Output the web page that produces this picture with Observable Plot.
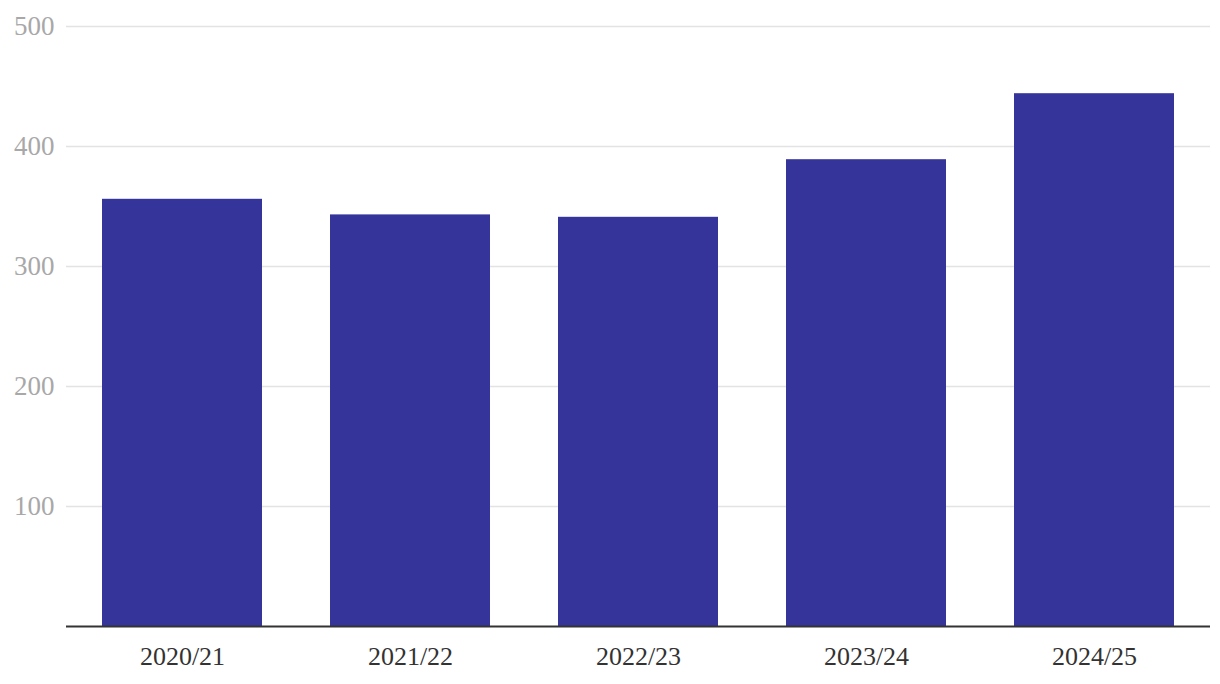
<!DOCTYPE html>
<html>
<head>
<meta charset="utf-8">
<script src="https://cdn.jsdelivr.net/npm/d3@7"></script>
<script src="https://cdn.jsdelivr.net/npm/@observablehq/plot@0.6"></script>
<style>
  html, body { margin: 0; padding: 0; background: #fff; }
  #chart svg { display: block; }
</style>
</head>
<body>
<div id="chart"></div>
<script>
const years = ["2020/21", "2021/22", "2022/23", "2023/24", "2024/25"];
const values = [356, 343, 341, 389, 444];
const yTicks = [100, 200, 300, 400, 500];

const data = years.map((y, i) => ({year: y, value: values[i]}));

const chart = Plot.plot({
  width: 1220,
  height: 684,
  marginLeft: 66,
  marginRight: 10,
  marginTop: 26,
  marginBottom: 58,
  style: {fontFamily: "'Liberation Serif', 'DejaVu Serif', serif", fontSize: "20px", background: "#fff"},
  x: {domain: years, paddingInner: 0.3, paddingOuter: 0.15, label: null},
  y: {domain: [0, 500], label: null},
  marks: [
    Plot.gridY(yTicks, {stroke: "#e3e3e3", strokeOpacity: 1, strokeWidth: 1.5}),
    Plot.barY(data, {x: "year", y: "value", fill: "#35349a"}),
    Plot.ruleY([0], {stroke: "#333", strokeWidth: 2}),
    Plot.axisY(yTicks, {tickSize: 0, tickPadding: 12, fill: "#a8a8a8", fontSize: 27, label: null}),
    Plot.axisX({tickSize: 0, tickPadding: 20, fill: "#333", fontSize: 26, label: null})
  ]
});
document.getElementById("chart").append(chart);
</script>
</body>
</html>
